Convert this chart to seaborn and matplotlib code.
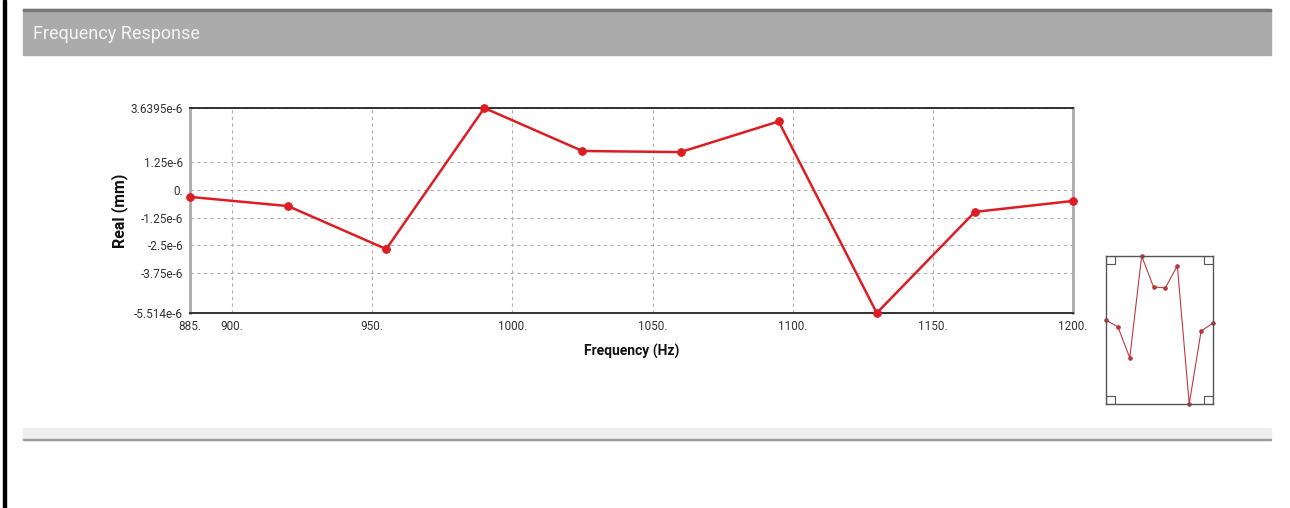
import matplotlib.pyplot as plt
import matplotlib.patches as mpatches
import pandas as pd
import seaborn as sns

# Frequency response data
freq_hz = [885, 920, 955, 990, 1025, 1060, 1095, 1130, 1165, 1200]
real_mm = [-0.33e-6, -0.74e-6, -2.66e-6, 3.6395e-6, 1.72e-6, 1.67e-6, 3.04e-6, -5.514e-6, -1.0e-6, -0.51e-6]

x_ticks = [885, 900, 950, 1000, 1050, 1100, 1150, 1200]
x_tick_labels = ['885.', '900.', '950.', '1000.', '1050.', '1100.', '1150.', '1200.']
y_ticks = [3.6395e-6, 1.25e-6, 0.0, -1.25e-6, -2.5e-6, -3.75e-6, -5.514e-6]
y_tick_labels = ['3.6395e-6', '1.25e-6', '0.', '-1.25e-6', '-2.5e-6', '-3.75e-6', '-5.514e-6']

df = pd.DataFrame({'Frequency (Hz)': freq_hz, 'Real (mm)': real_mm})

sns.set_style('white')
plt.rcParams['font.family'] = ['Roboto', 'DejaVu Sans']
plt.rcParams['axes.unicode_minus'] = False

red = '#dc1e24'
W, H = 1290, 508
fig = plt.figure(figsize=(W / 100, H / 100), dpi=100)

# window chrome: left border, header bar, bottom strip
fig.patches.append(mpatches.Rectangle((3 / W, 0), 3 / W, 1, color='black', transform=fig.transFigure))
fig.patches.append(mpatches.Rectangle((23 / W, 1 - 55 / H), 1248 / W, 46 / H, color='#ababab', transform=fig.transFigure))
fig.patches.append(mpatches.Rectangle((23 / W, 1 - 11 / H), 1248 / W, 2 / H, color='#777777', transform=fig.transFigure))
fig.patches.append(mpatches.Rectangle((23 / W, 1 - 439 / H), 1248 / W, 11 / H, color='#eeeeee', transform=fig.transFigure))
fig.patches.append(mpatches.Rectangle((23 / W, 1 - 440 / H), 1248 / W, 1.5 / H, color='#9a9a9a', transform=fig.transFigure))
fig.text(33 / W, 1 - 34 / H, 'Frequency Response', color='#f4f4f4', fontsize=13,
         va='center', ha='left')

# main plot
ax = fig.add_axes([190 / W, 1 - 313 / H, 883 / W, 205 / H])
sns.lineplot(data=df, x='Frequency (Hz)', y='Real (mm)', ax=ax, color=red, lw=1.8,
             marker='o', markersize=5.5, markeredgecolor=red, clip_on=False, zorder=5)
ax.set_xlim(885, 1200)
ax.set_ylim(-5.514e-6, 3.6395e-6)
ax.set_xticks(x_ticks, x_tick_labels, fontsize=8.5, color='#333333')
ax.set_yticks(y_ticks, y_tick_labels, fontsize=8.5, color='#333333')
ax.tick_params(length=0, pad=5)
ax.grid(True, ls=(0, (3, 3)), color='#b0b0b0', lw=0.8)
for s in ('top', 'bottom'):
    ax.spines[s].set_color('#222222')
    ax.spines[s].set_linewidth(1.3)
for s in ('left', 'right'):
    ax.spines[s].set_color('#aaaaaa')
    ax.spines[s].set_linewidth(2)
ax.set_xlabel('Frequency (Hz)', fontsize=10, fontweight='bold', labelpad=8, color='#111111')
ax.set_ylabel('Real (mm)', fontsize=11.5, fontweight='bold', labelpad=2, color='#111111')

# thumbnail overview
tax = fig.add_axes([1106 / W, 1 - 404 / H, 107 / W, 148 / H])
sns.lineplot(data=df, x='Frequency (Hz)', y='Real (mm)', ax=tax, color='#c0393f', lw=0.8,
             marker='o', markersize=2.5, markeredgecolor='#b03038', clip_on=False)
tax.set_xlim(885, 1200)
tax.set_ylim(-5.514e-6, 3.6395e-6)
tax.set_xticks([])
tax.set_yticks([])
tax.set_xlabel('')
tax.set_ylabel('')
for s in tax.spines.values():
    s.set_color('#555555')
    s.set_linewidth(1)
for cx, cy in [(0, 0), (0, 1), (1, 0), (1, 1)]:
    bx = 0.0 if cx == 0 else 1 - 0.08
    by = 0.0 if cy == 0 else 1 - 0.055
    tax.add_patch(mpatches.Rectangle((bx, by), 0.08, 0.055, fill=False, ec='#555555', lw=0.8,
                                     transform=tax.transAxes))

fig.savefig('out.png', dpi=100)
